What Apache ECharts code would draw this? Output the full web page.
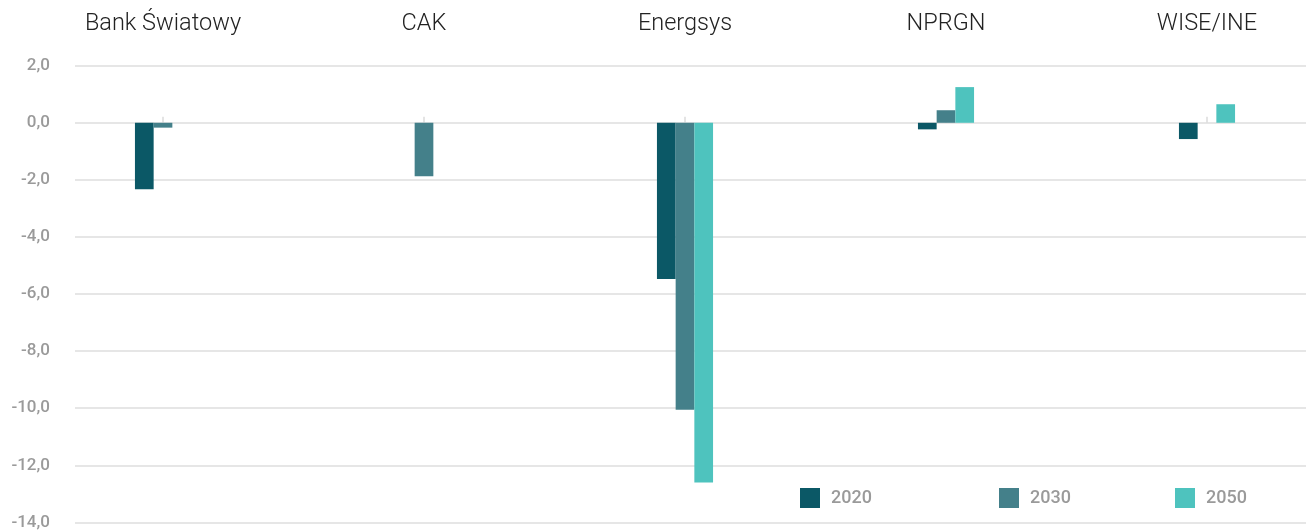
<!DOCTYPE html>
<html>
<head>
<meta charset="utf-8">
<script src="https://cdn.jsdelivr.net/npm/echarts@6/dist/echarts.min.js"></script>
<style>
html,body{margin:0;padding:0;background:#fff;}
#chart{width:1306px;height:531px;}
</style>
</head>
<body>
<div id="chart"></div>
<script>
const categories = ['Bank Światowy', 'CAK', 'Energsys', 'NPRGN', 'WISE/INE'];
const seriesNames = ['2020', '2030', '2050'];
const values2020 = [-2.33, null, -5.47, -0.23, -0.57];
const values2030 = [-0.17, -1.87, -10.05, 0.44, null];
const values2050 = [null, null, -12.6, 1.25, 0.65];
const yMin = -14, yMax = 2, yInterval = 2;
const colors = ['#0b5866', '#44808a', '#4ec3be'];

const chart = echarts.init(document.getElementById('chart'));
const gridTop = 65.7, gridBottom = 8.6;
const legendBase = {
  top: 483, itemWidth: 20, itemHeight: 20, icon: 'rect',
  textStyle: {color: '#9a9a9a', fontSize: 18, fontWeight: 500, fontFamily: 'Roboto', padding: [2, 0, 0, 6]}
};
chart.setOption({
  animation: false,
  color: colors,
  grid: [
    {left: 75, right: 0, top: gridTop, bottom: gridBottom, outerBoundsMode: 'none', containLabel: false},
    {left: 32.5, width: 1305, top: gridTop, bottom: gridBottom, outerBoundsMode: 'none', containLabel: false}
  ],
  legend: [
    Object.assign({left: 795, data: [seriesNames[0]]}, legendBase),
    Object.assign({left: 994, data: [seriesNames[1]]}, legendBase),
    Object.assign({left: 1170, data: [seriesNames[2]]}, legendBase)
  ],
  xAxis: [
    {gridIndex: 0, type: 'category', data: categories, show: false},
    {
      gridIndex: 1, type: 'category', data: categories, position: 'top',
      axisLine: {show: false},
      axisTick: {show: true, alignWithLabel: true, length: 6, lineStyle: {color: '#dcdcdc', width: 1.5}},
      axisLabel: {color: '#222', fontSize: 23.5, fontWeight: 300, fontFamily: 'Roboto', margin: 30},
      splitLine: {show: false}
    }
  ],
  yAxis: [
    {
      gridIndex: 0, type: 'value', min: yMin, max: yMax, interval: yInterval,
      axisLine: {show: false}, axisTick: {show: false},
      axisLabel: {
        color: '#9a9a9a', fontSize: 17, fontWeight: 500, fontFamily: 'Roboto', margin: 25,
        formatter: v => v.toFixed(1).replace('.', ',')
      },
      splitLine: {show: true, lineStyle: {color: '#dedede', width: 1.5}}
    },
    {gridIndex: 1, type: 'value', min: yMin, max: yMax, interval: yInterval, show: false, splitLine: {show: false}}
  ],
  series: [
    {name: seriesNames[0], type: 'bar', xAxisIndex: 1, yAxisIndex: 1, data: values2020, barWidth: 18.7, barGap: '0%', itemStyle: {color: colors[0]}},
    {name: seriesNames[1], type: 'bar', xAxisIndex: 1, yAxisIndex: 1, data: values2030, barWidth: 18.7, barGap: '0%', itemStyle: {color: colors[1]}},
    {name: seriesNames[2], type: 'bar', xAxisIndex: 1, yAxisIndex: 1, data: values2050, barWidth: 18.7, barGap: '0%', itemStyle: {color: colors[2]}}
  ]
});
</script>
</body>
</html>
